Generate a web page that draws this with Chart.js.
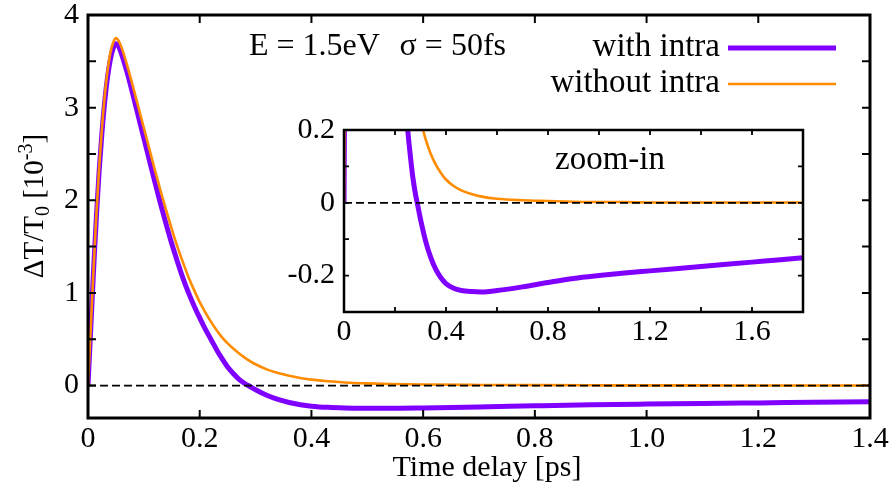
<!DOCTYPE html>
<html><head><meta charset="utf-8">
<script src="https://cdn.jsdelivr.net/npm/chart.js@4.4.1/dist/chart.umd.min.js"></script>
<style>
html,body{margin:0;padding:0;background:#fff;}
#wrap{position:relative;width:895px;height:492px;overflow:hidden;}
#main{position:absolute;left:0;top:0;}
#inset{position:absolute;left:280px;top:118px;}
</style></head><body>
<div id="wrap"><canvas id="main" width="895" height="492"></canvas><canvas id="inset" width="535" height="232"></canvas></div>
<script>
// ---- data ----
const times = [0,0.005,0.01,0.015,0.02,0.025,0.03,0.035,0.04,0.045,0.05,0.055,0.06,0.07,0.08,0.09,0.10,0.11,0.12,0.13,0.14,0.15,0.16,0.17,0.18,0.19,0.20,0.21,0.22,0.23,0.24,0.25,0.26,0.27,0.28,0.29,0.30,0.32,0.34,0.36,0.38,0.40,0.43,0.46,0.50,0.54,0.60,0.70,0.80,0.90,1.0,1.1,1.2,1.3,1.4,1.5,1.6,1.7,1.8];
const withIntra = [0,0.62,1.25,1.82,2.32,2.73,3.07,3.33,3.52,3.64,3.69,3.66,3.58,3.38,3.15,2.91,2.67,2.43,2.19,1.96,1.74,1.53,1.34,1.16,1.00,0.86,0.73,0.61,0.50,0.39,0.29,0.20,0.13,0.07,0.025,-0.01,-0.045,-0.105,-0.15,-0.183,-0.206,-0.222,-0.235,-0.241,-0.244,-0.245,-0.241,-0.231,-0.219,-0.208,-0.200,-0.193,-0.187,-0.181,-0.175,-0.169,-0.163,-0.157,-0.151];
const withoutIntra = [0,0.63,1.27,1.85,2.36,2.78,3.13,3.40,3.59,3.70,3.75,3.72,3.65,3.46,3.24,3.01,2.78,2.55,2.32,2.10,1.89,1.69,1.50,1.33,1.17,1.03,0.90,0.79,0.69,0.60,0.52,0.455,0.40,0.35,0.305,0.265,0.23,0.175,0.135,0.105,0.082,0.064,0.046,0.034,0.024,0.017,0.011,0.007,0.005,0.003,0.002,0.002,0.001,0.001,0.001,0.001,0.001,0.001,0.001];
const seriesNames = ['with intra','without intra'];
const mainXTicks = [0,0.2,0.4,0.6,0.8,1.0,1.2,1.4];
const mainYTicks = [0,0.5,1,1.5,2,2.5,3,3.5,4];
const mainYLabels = [0,1,2,3,4];
const insetXTicks = [0,0.2,0.4,0.6,0.8,1.0,1.2,1.4,1.6,1.8];
const insetXLabels = [0,0.4,0.8,1.2,1.6];
const insetYTicks = [-0.3,-0.2,-0.1,0,0.1,0.2];
const insetYLabels = [-0.2,0,0.2];

// ---- styles ----
const PURPLE = '#8000ff';
const ORANGE = '#ff8c00';
const FONT = "'Liberation Serif', 'DejaVu Serif', serif";

function pts(ys){ return times.map((t,i)=>({x:t,y:ys[i]})); }
const zeroPts = [{x:times[0],y:0},{x:times[times.length-1],y:0}];

function makeDatasets(){
  return [
    {label:'zero', data:zeroPts, borderColor:'#000', borderWidth:1.8, borderDash:[8,4], pointRadius:0, order:0},
    {label:seriesNames[1], data:pts(withoutIntra), borderColor:ORANGE, borderWidth:2.6, pointRadius:0, cubicInterpolationMode:'monotone', order:1},
    {label:seriesNames[0], data:pts(withIntra), borderColor:PURPLE, borderWidth:5, pointRadius:0, cubicInterpolationMode:'monotone', order:2}
  ];
}
function fmtX(v){ return v===0 ? '0' : v.toFixed(1); }
function near(a,arr){ return arr.some(b=>Math.abs(a-b)<1e-9); }
function noPad(s){ s.paddingTop=0; s.paddingBottom=0; s.paddingLeft=0; s.paddingRight=0; }

function framePlugin(xT, yT, tickLen, tickW, frameW){
  return { id:'frameTicks', afterDatasetsDraw(chart){
    const {ctx, chartArea:a, scales:{x,y}} = chart;
    ctx.save();
    ctx.strokeStyle='#000'; ctx.lineWidth=tickW; ctx.lineCap='butt';
    ctx.beginPath();
    xT.forEach(v=>{ const p=x.getPixelForValue(v);
      ctx.moveTo(p,a.bottom); ctx.lineTo(p,a.bottom-tickLen);
      ctx.moveTo(p,a.top); ctx.lineTo(p,a.top+tickLen); });
    yT.forEach(v=>{ const p=y.getPixelForValue(v);
      ctx.moveTo(a.left,p); ctx.lineTo(a.left+tickLen,p);
      ctx.moveTo(a.right,p); ctx.lineTo(a.right-tickLen,p); });
    ctx.stroke();
    ctx.lineWidth=frameW;
    ctx.strokeRect(a.left,a.top,a.right-a.left,a.bottom-a.top);
    ctx.restore();
  }};
}

const bgPlugin = { id:'bg', beforeDraw(chart){ const {ctx, chartArea:a}=chart; ctx.save(); ctx.fillStyle='#fff'; ctx.fillRect(a.left,a.top,a.right-a.left,a.bottom-a.top); ctx.restore(); } };

const textPlugin = { id:'texts', afterDraw(chart){
  const ctx = chart.ctx;
  ctx.save(); ctx.fillStyle='#000';
  // x title
  ctx.font = '30px '+FONT; ctx.textAlign='center'; ctx.textBaseline='middle';
  ctx.fillText('Time delay [ps]', 487, 468);
  // annotation
  ctx.font = '32px '+FONT;
  ctx.textAlign='left';
  ctx.fillText('E = 1.5eV', 249, 47);
  ctx.textAlign='right';
  ctx.fillText('\u03C3 = 50fs', 506, 47);
  // legend
  ctx.font = '33px '+FONT;
  ctx.fillText(seriesNames[0], 720, 47);
  ctx.fillText(seriesNames[1], 720, 83);
  ctx.lineWidth=5; ctx.strokeStyle=PURPLE; ctx.beginPath(); ctx.moveTo(728,48); ctx.lineTo(836,48); ctx.stroke();
  ctx.lineWidth=2.6; ctx.strokeStyle=ORANGE; ctx.beginPath(); ctx.moveTo(728,84); ctx.lineTo(836,84); ctx.stroke();
  // y title rotated with sub/superscripts
  const parts = [['\u0394T/T',29,0],['0',20,6],[' [10',29,0],['-3',20,-11],[']',29,0]];
  let total=0; parts.forEach(p=>{ ctx.font=p[1]+'px '+FONT; total+=ctx.measureText(p[0]).width; });
  ctx.translate(43, 206); ctx.rotate(-Math.PI/2);
  ctx.textAlign='left'; ctx.textBaseline='alphabetic';
  let cx = -total/2;
  parts.forEach(p=>{ ctx.font=p[1]+'px '+FONT; ctx.fillText(p[0], cx, p[2]); cx+=ctx.measureText(p[0]).width; });
  ctx.restore();
}};

const mainChart = new Chart(document.getElementById('main'), {
  type:'line',
  data:{ datasets: makeDatasets() },
  options:{
    responsive:false, animation:false, devicePixelRatio:1,
    layout:{ padding:{ left:0, top:15, right:25, bottom:0 } },
    plugins:{ legend:{display:false}, tooltip:{enabled:false} },
    scales:{
      x:{ type:'linear', min:0, max:1.4,
        afterBuildTicks:s=>{ s.ticks = mainXTicks.map(v=>({value:v})); },
        afterFit:s=>{ s.height = 74; noPad(s); },
        grid:{display:false, drawTicks:false}, border:{display:false},
        ticks:{ color:'#000', font:{family:FONT, size:30}, padding:3, maxRotation:0, autoSkip:false,
          callback:v=>fmtX(v) } },
      y:{ type:'linear', min:-0.35, max:4,
        afterBuildTicks:s=>{ s.ticks = mainYTicks.map(v=>({value:v})); },
        afterFit:s=>{ s.width = 88; noPad(s); },
        grid:{display:false, drawTicks:false}, border:{display:false},
        ticks:{ color:'#000', font:{family:FONT, size:30}, padding:9, autoSkip:false,
          callback:v=> near(v,mainYLabels) ? String(Math.round(v)) : '' } }
    }
  },
  plugins:[ framePlugin(mainXTicks, mainYTicks, 8, 2, 3), textPlugin ]
});

const insetText = { id:'insetText', afterDraw(chart){
  const ctx=chart.ctx; ctx.save(); ctx.fillStyle='#000'; ctx.font='33px '+FONT; ctx.textAlign='center'; ctx.textBaseline='middle';
  ctx.fillText('zoom-in', 330, 42); ctx.restore(); } };

const insetChart = new Chart(document.getElementById('inset'), {
  type:'line',
  data:{ datasets: makeDatasets() },
  options:{
    responsive:false, animation:false, devicePixelRatio:1,
    layout:{ padding:{ left:0, top:12, right:12, bottom:0 } },
    plugins:{ legend:{display:false}, tooltip:{enabled:false} },
    scales:{
      x:{ type:'linear', min:0, max:1.8,
        afterBuildTicks:s=>{ s.ticks = insetXTicks.map(v=>({value:v})); },
        afterFit:s=>{ s.height = 38; noPad(s); },
        grid:{display:false, drawTicks:false}, border:{display:false},
        ticks:{ color:'#000', font:{family:FONT, size:30}, padding:2, maxRotation:0, autoSkip:false,
          callback:v=> near(v,insetXLabels) ? fmtX(v) : '' } },
      y:{ type:'linear', min:-0.3, max:0.2,
        afterBuildTicks:s=>{ s.ticks = insetYTicks.map(v=>({value:v})); },
        afterFit:s=>{ s.width = 64; noPad(s); },
        grid:{display:false, drawTicks:false}, border:{display:false},
        ticks:{ color:'#000', font:{family:FONT, size:30}, padding:9, autoSkip:false,
          callback:v=> near(v,insetYLabels) ? (Math.abs(v)<1e-9 ? '0' : v.toFixed(1)) : '' } }
    }
  },
  plugins:[ bgPlugin, framePlugin(insetXTicks, insetYTicks, 5, 1.8, 2.5), insetText ]
});
</script>
</body></html>
